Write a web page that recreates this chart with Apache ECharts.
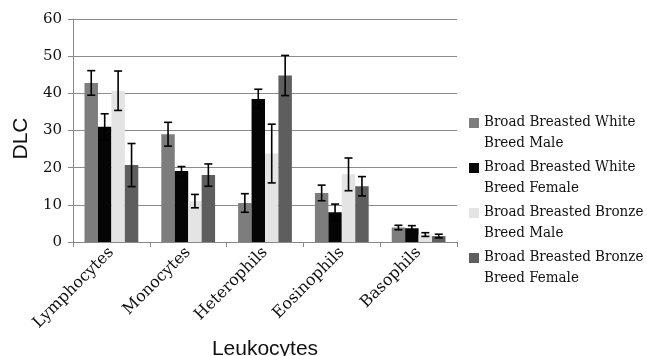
<!DOCTYPE html>
<html><head><meta charset="utf-8">
<script src="https://cdn.jsdelivr.net/npm/echarts@6/dist/echarts.min.js"></script>
<style>html,body{margin:0;padding:0;background:#fff}#c{width:647px;height:356px}</style>
</head><body><div id="c"></div>
<script>
const categories = ['Lymphocytes','Monocytes','Heterophils','Eosinophils','Basophils'];
const seriesNames = ['Broad Breasted White Breed Male','Broad Breasted White Breed Female','Broad Breasted Bronze Breed Male','Broad Breasted Bronze Breed Female'];
const legendLabels = ['Broad Breasted White\nBreed Male','Broad Breasted White\nBreed Female','Broad Breasted Bronze\nBreed Male','Broad Breasted Bronze\nBreed Female'];
const bbwMale = [42.8, 29.0, 10.5, 13.2, 3.9];
const bbwFemale = [31.0, 19.1, 38.5, 8.0, 3.7];
const bbbMale = [40.7, 11.0, 23.8, 18.2, 2.0];
const bbbFemale = [20.7, 18.0, 44.8, 15.0, 1.6];
const bbwMaleErr = [3.3, 3.2, 2.5, 2.1, 0.6];
const bbwFemaleErr = [3.5, 1.2, 2.6, 2.2, 0.7];
const bbbMaleErr = [5.3, 1.8, 7.9, 4.4, 0.5];
const bbbFemaleErr = [5.8, 3.0, 5.4, 2.6, 0.5];
const yTicks = [0, 10, 20, 30, 40, 50, 60];
const colors = ['#7d7d7d', '#050505', '#e4e4e4', '#5e5e5e'];

const SERIF = "DejaVu Serif";
const SERIF_C = "'DejaVu Serif Condensed', 'DejaVu Serif'";
const SANS = "'Liberation Sans', Arial, sans-serif";
const values = [bbwMale, bbwFemale, bbbMale, bbbFemale];
const errs = [bbwMaleErr, bbwFemaleErr, bbbMaleErr, bbbFemaleErr];
const catGap = 0.30;

const series = [];
values.forEach((v, i) => {
  series.push({
    name: seriesNames[i], type: 'bar', data: v, barGap: '0%', barCategoryGap: (catGap*100)+'%',
    itemStyle: { color: colors[i] }, silent: true
  });
});
values.forEach((v, i) => {
  series.push({
    type: 'custom', silent: true, z: 10,
    data: v.map((y, k) => [k, y - errs[i][k], y + errs[i][k]]),
    renderItem: function (params, api) {
      const k = api.value(0);
      const lo = api.coord([k, api.value(1)]);
      const hi = api.coord([k, api.value(2)]);
      const band = api.size([1, 0])[0];
      const bw = band * (1 - catGap) / 4;
      const x = lo[0] - 2 * bw + (i + 0.5) * bw;
      const cw = 4;
      const st = { stroke: '#000', lineWidth: 1.6 };
      return { type: 'group', children: [
        { type: 'line', shape: { x1: x, y1: lo[1], x2: x, y2: hi[1] }, style: st },
        { type: 'line', shape: { x1: x - cw, y1: lo[1], x2: x + cw, y2: lo[1] }, style: st },
        { type: 'line', shape: { x1: x - cw, y1: hi[1], x2: x + cw, y2: hi[1] }, style: st }
      ]};
    }
  });
});

const legendIcon = 'path://M0,0L0.01,0L0,0.01Z M0,6H10V16H0Z M0,42L0.01,42L0,41.99Z';

const chart = echarts.init(document.getElementById('c'), null, { renderer: 'canvas' });
chart.setOption({
  animation: false,
  backgroundColor: '#fff',
  grid: { left: 73, right: 190, top: 19, bottom: 114, outerBoundsMode: 'none', containLabel: false },
  legend: {
    orient: 'vertical', left: 469, top: 112, itemGap: 3, padding: 0,
    itemWidth: 10, itemHeight: 42, icon: legendIcon,
    data: seriesNames.map((n, i) => ({ name: n, itemStyle: { color: colors[i], borderWidth: 0 } })),
    formatter: function (n) { return legendLabels[seriesNames.indexOf(n)]; },
    textStyle: { fontFamily: SERIF_C, fontSize: 15, color: '#111', lineHeight: 21 }
  },
  xAxis: {
    type: 'category', data: categories,
    name: 'Leukocytes', nameLocation: 'middle', nameGap: 92,
    nameTextStyle: { fontFamily: SANS, fontSize: 21, color: '#111' },
    axisLine: { lineStyle: { color: '#888', width: 1 } },
    axisTick: { show: true, length: 5, lineStyle: { color: '#888' } },
    axisLabel: { rotate: 45, fontFamily: SERIF, fontSize: 16, color: '#111', margin: 8 }
  },
  yAxis: {
    type: 'value', min: 0, max: 60, interval: 10,
    name: 'DLC', nameLocation: 'middle', nameGap: 40, nameRotate: 90,
    nameTextStyle: { fontFamily: SANS, fontSize: 21, color: '#111', padding: [0, 16, 0, 0] },
    axisLine: { show: true, lineStyle: { color: '#888', width: 1 } },
    axisTick: { show: true, length: 5, lineStyle: { color: '#888' } },
    splitLine: { lineStyle: { color: '#8c8c8c', width: 1 } },
    axisLabel: { fontFamily: SERIF, fontSize: 15, color: '#111', margin: 11,
      formatter: function (v) { return yTicks.indexOf(v) >= 0 ? String(v) : ''; } }
  },
  series: series
});
</script></body></html>
